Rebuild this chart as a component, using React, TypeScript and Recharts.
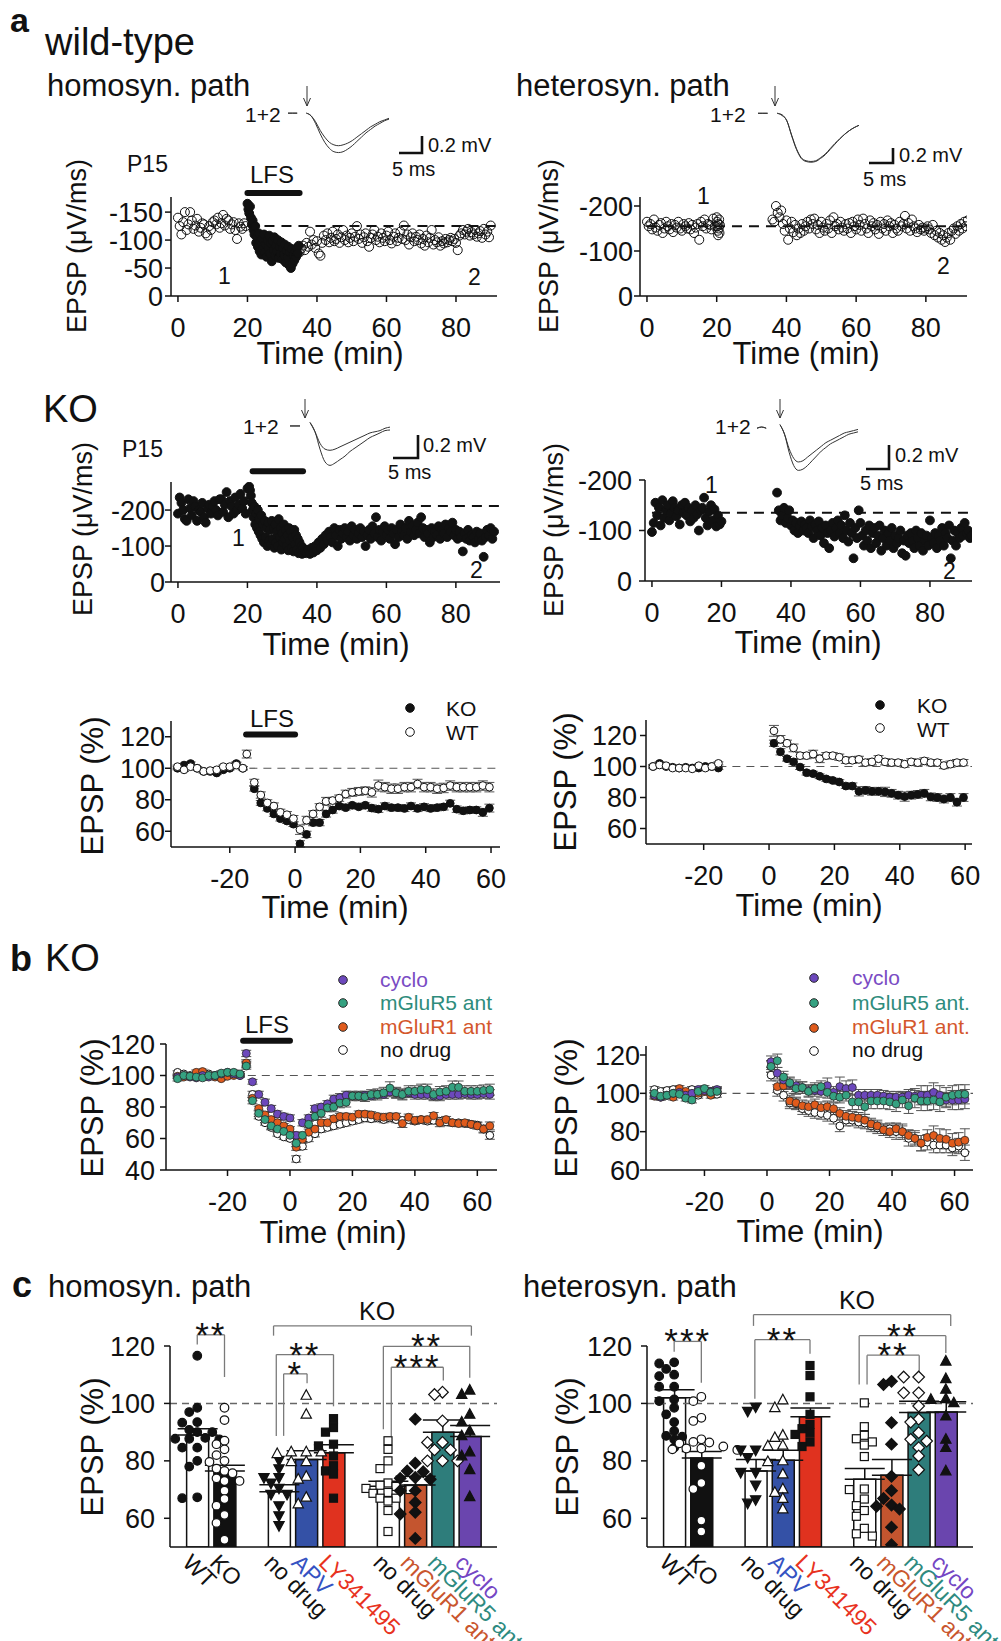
import React from 'react';
import {
  ComposedChart,
  LineChart,
  Line,
  Scatter,
  Bar,
  Cell,
  XAxis,
  YAxis,
  ReferenceLine,
  ReferenceDot,
  ErrorBar,
} from 'recharts';

const FONT = '"Liberation Sans", Arial, Helvetica, sans-serif';
const INK = '#111';

// ---------- a: single experiments, EPSP slope in µV/ms (sign dropped, axis labelled negative) ----------
// wild-type, homosynaptic path
const wtHomoPre = [140, 125, 110, 132, 150, 118, 128, 150, 135, 120, 126, 138, 115, 122, 130, 128, 112, 108, 125, 118, 132, 135, 128, 140, 122, 130, 145, 126, 138, 135, 120, 128, 132, 118, 102, 130, 124, 120, 130, 125]; // t 0..19.5, 0.5 min
const wtHomoLfs = [165, 155, 148, 160, 140, 128, 135, 118, 110, 125, 95, 105, 88, 112, 80, 98, 74, 102, 84, 110, 78, 92, 70, 100, 86, 108, 76, 94, 62, 98, 82, 105, 72, 90, 80, 100, 68, 88, 76, 96, 66, 85, 74, 92, 60, 80, 70, 88, 55, 78, 50, 84, 58, 72, 64, 80, 70, 86, 76, 90]; // t 20..34.75, 0.25 min
const wtHomoPost = [78, 85, 90, 82, 95, 88, 115, 92, 100, 86, 98, 76, 72, 95, 108, 100, 112, 96, 104, 115, 98, 102, 110, 95, 105, 118, 100, 108, 96, 104, 112, 98, 106, 125, 102, 110, 95, 105, 112, 98, 88, 104, 110, 118, 100, 106, 96, 112, 104, 98, 108, 115, 100, 94, 106, 112, 98, 104, 115, 102, 126, 100, 110, 92, 105, 112, 98, 106, 100, 110, 94, 102, 90, 108, 96, 104, 118, 92, 100, 96, 105, 90, 98, 94, 102, 96, 100, 104, 98, 102, 95, 82, 108, 112, 118, 110, 115, 120, 108, 114, 110, 118, 106, 112, 116, 104, 120, 110, 115, 105, 126]; // t 35..90, 0.5 min
// wild-type, heterosynaptic path
const wtHetPre = [165, 155, 160, 148, 170, 152, 145, 158, 162, 140, 150, 165, 155, 148, 160, 142, 158, 152, 165, 150, 145, 160, 155, 150, 162, 148, 158, 140, 152, 160, 125, 165, 155, 170, 150, 160, 158, 148, 172, 155]; // t 0..19.5
const wtHetBurst = [175, 165, 155, 145, 135, 160, 150, 170, 140, 158]; // t 20..20.9, 0.1 min
const wtHetPost = [170, 165, 200, 185, 175, 190, 160, 145, 168, 125, 150, 165, 142, 158, 135, 150, 140, 160, 145, 155, 165, 150, 170, 160, 172, 148, 158, 140, 165, 152, 145, 160, 150, 168, 140, 175, 155, 160, 148, 165, 152, 145, 160, 150, 162, 140, 165, 155, 148, 170, 158, 145, 172, 160, 150, 140, 168, 155, 162, 148, 158, 138, 165, 150, 160, 145, 168, 155, 162, 140, 158, 150, 145, 165, 155, 160, 178, 150, 162, 145, 170, 155, 150, 142, 158, 148, 152, 145, 150, 155, 148, 140, 158, 135, 145, 130, 140, 125, 135, 120, 130, 140, 125, 145, 150, 138, 155, 145, 160, 150, 165, 155, 168]; // t 36..92
// KO, homosynaptic path
const koHomoPre = [190, 235, 220, 200, 175, 170, 230, 205, 185, 225, 210, 170, 200, 195, 220, 180, 165, 205, 215, 190, 210, 225, 200, 185, 230, 230, 195, 215, 250, 180, 225, 210, 190, 235, 200, 215, 245, 205, 225, 190, 260]; // t 0..20
const koHomoLfs = [265, 255, 240, 220, 200, 180, 210, 160, 190, 150, 200, 140, 175, 130, 185, 120, 160, 110, 170, 125, 150, 100, 165, 115, 145, 105, 170, 120, 150, 95, 160, 110, 140, 100, 175, 125, 150, 90, 135, 110, 160, 120, 145, 100, 130, 88, 150, 115, 140, 95, 125, 85, 145, 105, 130, 90, 120, 80, 110, 85, 100, 78, 95]; // t 20.5..36, 0.25 min
const koHomoPost = [85, 80, 90, 78, 95, 82, 100, 88, 110, 95, 120, 105, 130, 115, 140, 125, 110, 150, 130, 100, 145, 120, 135, 150, 125, 140, 115, 155, 130, 145, 120, 135, 150, 125, 140, 100, 130, 145, 120, 155, 135, 180, 125, 145, 115, 140, 155, 130, 145, 120, 150, 135, 105, 145, 125, 160, 140, 130, 150, 120, 170, 140, 155, 130, 145, 165, 135, 180, 150, 125, 145, 135, 110, 150, 125, 140, 130, 155, 120, 145, 135, 160, 125, 150, 140, 165, 130, 145, 120, 140, 125, 85, 135, 120, 145, 115, 130, 125, 110, 140, 120, 135, 115, 70, 125, 145, 130, 150, 120, 140]; // t 36.5..91
// KO, heterosynaptic path
const koHetPre = [97, 115, 155, 130, 145, 110, 160, 125, 140, 150, 120, 135, 158, 145, 128, 140, 112, 150, 135, 155, 130, 145, 118, 140, 125, 150, 132, 100, 140, 145, 165, 125, 110, 138, 150, 120, 142, 108, 130, 112, 118]; // t 0..20
const koHetPost = [175, 140, 120, 130, 145, 115, 125, 140, 110, 120, 100, 115, 95, 108, 118, 100, 112, 105, 95, 120, 108, 85, 112, 100, 118, 90, 105, 75, 110, 95, 65, 100, 115, 88, 105, 120, 95, 110, 85, 130, 100, 78, 115, 95, 45, 105, 85, 140, 115, 90, 70, 100, 80, 110, 65, 95, 105, 75, 90, 110, 60, 85, 100, 70, 95, 80, 105, 65, 90, 75, 85, 100, 55, 80, 50, 90, 75, 95, 80, 65, 100, 85, 70, 95, 60, 80, 90, 70, 120, 85, 75, 95, 65, 90, 80, 105, 70, 95, 85, 110, 45, 80, 100, 70, 95, 85, 105, 90, 115, 95, 100, 85, 90]; // t 36..92

// example EPSP traces (mV, 1 ms steps; null = removed stimulus artefact)
const trWtHomo1 = [0, 0, 0, null, 0, -0.03, -0.1, -0.2, -0.28, -0.34, -0.37, -0.38, -0.37, -0.35, -0.32, -0.28, -0.24, -0.2, -0.16, -0.13, -0.1, -0.08, -0.06];
const trWtHomo2 = [0, 0, 0, null, 0, -0.03, -0.12, -0.24, -0.34, -0.41, -0.45, -0.46, -0.45, -0.42, -0.38, -0.33, -0.28, -0.23, -0.19, -0.15, -0.12, -0.09, -0.07];
const trWtHet1 = [0, 0, 0, null, 0, -0.03, -0.1, -0.3, -0.48, -0.6, -0.64, -0.65, -0.64, -0.6, -0.55, -0.48, -0.41, -0.34, -0.28, -0.23, -0.19, -0.16];
const trWtHet2 = [0, 0, 0, null, 0, -0.02, -0.1, -0.29, -0.47, -0.59, -0.63, -0.64, -0.63, -0.59, -0.54, -0.47, -0.4, -0.34, -0.28, -0.23, -0.19, -0.16];
const trKoHomo1 = [0, 0, 0, null, 0.03, -0.05, -0.2, -0.31, -0.34, -0.32, -0.29, -0.26, -0.22, -0.19, -0.16, -0.13, -0.1, -0.08, -0.06, -0.04, -0.035];
const trKoHomo2 = [0, 0, 0, null, 0.03, -0.05, -0.15, -0.2, -0.21, -0.2, -0.18, -0.16, -0.14, -0.12, -0.1, -0.08, -0.06, -0.05, -0.04, -0.02, -0.01];
const trKoHet1 = [0, 0.01, 0, null, null, 0.03, -0.05, -0.2, -0.31, -0.35, -0.34, -0.31, -0.27, -0.23, -0.19, -0.16, -0.13, -0.11, -0.09, -0.07, -0.05, -0.04, -0.03];
const trKoHet2 = [0, 0.01, 0, null, null, 0.03, -0.05, -0.17, -0.25, -0.28, -0.27, -0.24, -0.21, -0.18, -0.15, -0.12, -0.1, -0.08, -0.06, -0.04, -0.03, -0.02, -0.01];

// ---------- a, bottom row: averages, EPSP (%) ----------
const avgHomoWtPre = [101, 99, 101, 100, 98, 98.5, 99, 101, 101, 102, 100]; // t -36..-16, 2 min
const avgHomoWtPreErr = [1, 1, 1, 1, 1, 1, 1, 1, 1, 1.5, 1];
const avgHomoKoPre = [100, 102, 103, 100, 98, 98, 97, 99, 100, 103, 100];
const avgHomoKoPreErr = [1, 1, 1, 1, 1, 1, 1, 1, 1, 1, 1];
const avgHomoWtTest = [{ t: -14.8, v: 109, e: 2.5 }];
const avgHomoWtPost = [91, 83, 78, 76, 72, 70.5, 68, 61, 67, 71, 75.5, 79, 79.5, 81, 83.6, 84.7, 85.3, 85.7, 84.7, 89, 88, 87, 87, 88, 88, 90, 88, 88, 87, 87.5, 89, 88, 88, 88, 88, 89, 88]; // t -12.5..59.5
const avgHomoWtPostErr = [2, 2, 2, 2, 2, 2, 2, 3, 2.5, 2, 2, 2.5, 2, 2, 2.5, 2.5, 2.5, 2.5, 3, 3.5, 3, 3, 3, 3, 3, 3, 3, 3, 3, 3, 3, 3, 3, 3, 3, 3, 3];
const avgHomoKoPost = [87, 78, 74.5, 71, 68, 66.5, 64.5, 52, 58, 65.5, 65.5, 71, 73.5, 76, 75, 76.5, 75.5, 76.5, 74.7, 74, 76, 75, 75, 74.5, 76, 74.5, 75.5, 74.5, 75, 75.5, 77.7, 74, 73, 73.5, 73.5, 72, 74.7];
const avgHomoKoPostErr = [1.5, 1.5, 1.5, 1.5, 1.5, 1.5, 1.5, 2, 2, 2, 2, 2, 2, 1.5, 1.5, 1.5, 1.5, 1.5, 2, 2, 2, 2, 2, 2, 2, 2, 2, 2, 2, 2, 2, 2, 2, 2, 2, 2.5, 2.5];

const avgHetWtPre = [100, 101, 100.5, 99, 99, 99, 98.5, 100.5, 99, 100, 102]; // t -35.5..-15.5
const avgHetWtPreErr = [1, 1, 1, 1, 1, 1, 1, 1, 1, 1, 1];
const avgHetKoPre = [100, 102, 100, 99.5, 99, 99.5, 99, 99, 100, 100, 99];
const avgHetKoPreErr = [1, 1, 1, 1, 1, 1, 1, 1, 1, 1, 1];
const avgHetWtPost = [123, 117.5, 115, 112, 107, 107, 108, 105, 107, 107, 106, 104, 104, 104.6, 102.5, 103, 105, 103, 102.5, 102.5, 101.5, 103, 102.5, 103.6, 102.5, 102.5, 100.6, 101.5, 102.5, 102.5]; // t 1.5..59.5
const avgHetWtPostErr = [3.5, 2.5, 2, 2.5, 2, 2, 2.5, 2.5, 2, 2, 2, 2, 2, 2, 2, 2, 2, 2, 2, 2, 2, 2, 2, 2, 2, 2, 2, 2, 2, 2];
const avgHetKoPost = [115, 109.5, 105, 103, 99.6, 96, 95.4, 93.7, 92, 91, 90, 87.4, 87.4, 84, 84.6, 84, 84, 83.6, 82.7, 81.5, 80.6, 81.5, 82, 82.7, 80.4, 80, 79, 80, 77, 80];
const avgHetKoPostErr = [2, 2, 1.5, 1.5, 1.5, 1.5, 1.5, 1.5, 1.5, 1.5, 1.5, 1.5, 2, 3, 2.5, 2.5, 2.5, 3, 2.5, 2.5, 3, 2.5, 2.5, 2.5, 2.5, 2.5, 2.5, 2.5, 2.5, 2.5];

// ---------- b: KO with drugs, EPSP (%) ----------
// homosyn., t -36..64 every 2 min
const bHomoCyclo = [99, 100, 99, 98.5, 100, 99, 100, 101, 102, 101, 100, 114, 96, 88, 83, 79, 75.5, 74, 73, 62, 70, 73, 79, 80, 82, 85, 86, 87.5, 87, 87, 87.5, 87, 88, 88, 89.5, 89, 88, 89, 88, 88, 88, 87, 87, 88, 88, 88, 88.5, 88, 88, 88.5, 88];
const bHomoCycloErr = [1, 1, 1, 1, 1, 1, 1, 1, 1, 1, 1, 2, 1.5, 2, 2, 2, 2, 2, 2, 2, 2, 2, 2, 2, 2, 2.5, 2.5, 2.5, 2.5, 2.5, 2.5, 2.5, 2.5, 2.5, 3, 3, 3, 3, 3, 3, 3, 3, 3, 3, 3, 3, 3, 3, 3, 3, 3];
const bHomoR5 = [98, 100, 99.5, 99, 98.5, 100, 100, 101.5, 102, 102, 101, 106, 84, 76, 72, 68, 66, 64.5, 62, 57, 62, 69, 74, 76, 79.5, 80, 82.5, 83, 87, 87, 86.5, 88, 88, 89, 92, 89, 88, 90, 90, 91, 91, 88, 89.5, 90, 92.5, 92.5, 90, 90, 90, 90.5, 91];
const bHomoR5Err = [1.5, 1.5, 1.5, 1.5, 1.5, 1.5, 1.5, 1.5, 1.5, 1.5, 1.5, 2, 2, 2, 2, 2, 2, 2, 2, 2, 2, 2, 2.5, 2.5, 2.5, 3, 3, 3, 3, 3, 3, 3, 3.5, 3.5, 4, 3.5, 3.5, 3.5, 3.5, 3.5, 3.5, 3.5, 3.5, 3.5, 4, 4, 3.5, 3.5, 3.5, 3.5, 3.5];
const bHomoR1 = [99.5, 99, 99.5, 102, 102.5, 100, 99, 98, 99.5, 100, 100.5, 108, 85.5, 79, 75, 72, 70, 68, 66, 54.5, 59.5, 64, 66, 70, 70, 72.5, 74, 74, 73.5, 75.5, 75.5, 75, 74, 73.5, 74, 74, 69.5, 73.5, 71.5, 72, 72, 74.5, 70, 72, 70, 69.5, 70, 69, 68, 66, 68];
const bHomoR1Err = [1, 1, 1, 1.5, 1.5, 1, 1, 1, 1, 1, 1, 2, 1.5, 1.5, 1.5, 1.5, 1.5, 1.5, 1.5, 2, 2, 2, 2, 2, 2, 2, 2, 2, 2, 2, 2, 2, 2, 2, 2, 2, 2.5, 2, 2, 2, 2, 2, 2.5, 2, 2, 2, 2, 2, 2, 2, 2.5];
const bHomoNone = [102, 101, 100, 99, 100, 101, 100, 100, 101, 100.5, 100, 107, 88, 74, 70, 67, 63, 61, 60, 47, 55, 60, 63, 66, 67, 68, 69, 70, 71, 72, 73, 72.5, 73, 72, 73, 72, 71.5, 72, 71, 72, 71, 71.5, 71, 70.5, 70, 70, 69.5, 69, 68.5, 66, 62];
const bHomoNoneErr = [1, 1, 1, 1, 1, 1, 1, 1, 1, 1, 1, 2, 2, 1.5, 1.5, 1.5, 1.5, 1.5, 1.5, 2, 2, 2, 2, 2, 2, 2, 2, 2, 2, 2, 2, 2, 2, 2, 2, 2, 2, 2, 2, 2, 2, 2, 2, 2, 2, 2, 2, 2, 2, 2.5, 2.5];
// heterosyn., pre t -36..-16, post t 1.3..63.3 every 2 min
const bHetCycloPre = [99, 98, 99, 100, 100.5, 99, 100, 102, 101.5, 101, 102];
const bHetR5Pre = [100, 98.5, 99, 100, 99.5, 97.5, 96.5, 101, 102.5, 100.5, 101];
const bHetR1Pre = [98.5, 98, 99, 98, 102.5, 101, 99, 100, 101, 99, 101.5];
const bHetNonePre = [102, 101, 101.5, 102, 100.5, 100, 102, 99, 101, 101, 99.5];
const bHetPreErr = [1.5, 1.5, 1.5, 1.5, 1.5, 1.5, 1.5, 1.5, 1.5, 1.5, 1.5];
const bHetCycloPost = [116.5, 110.5, 107, 105, 104, 103, 101.5, 101.5, 101, 104, 100.5, 103.5, 102.5, 103, 99, 99, 99, 99, 98.5, 98, 98, 98, 99, 98.5, 99, 99, 100.5, 99, 96.5, 96.5, 96.5, 97];
const bHetCycloErr = [3, 3, 3, 3, 3, 3, 3, 3, 3, 4, 3, 5, 4, 4, 3, 3, 3, 3, 3, 3, 3, 3, 3, 3, 5, 5, 5, 5, 4, 5, 5, 5];
const bHetR5Post = [114, 117, 108.5, 105.5, 102.5, 103, 101, 102.5, 103.5, 100.5, 98.5, 98, 99, 95.5, 95.5, 93, 96, 96, 96, 95.5, 94.5, 96.5, 93.5, 97.5, 96, 96, 96.5, 95.5, 98, 99, 99.5, 99.5];
const bHetR5Err = [3, 3.5, 3, 3, 3, 3, 3, 3, 3, 3, 3, 3, 3, 4, 4, 4, 4, 4, 4, 4, 4, 4, 4, 5, 5, 5, 5, 5, 5, 5, 5, 5];
const bHetR1Post = [114, 103.5, 104, 96, 95, 93.5, 93, 94, 92.5, 93, 92, 89.5, 88, 87.5, 87, 86, 84, 83, 81, 80, 81.5, 80, 78, 76.5, 74, 77, 78, 76.5, 76, 74, 74.5, 75.5];
const bHetR1Err = [3, 3, 3, 3, 3, 3, 3, 3, 3, 3, 3, 3, 3, 3, 3, 3, 3, 3, 3, 3, 3, 3, 3, 3, 4, 4, 5, 5, 5, 5, 5, 6];
const bHetNonePost = [109.5, 101.5, 99, 95, 94.5, 92, 91, 90, 89.5, 88.5, 87, 83, 86, 86, 85, 84.5, 83, 82, 81, 81.5, 80, 80, 76.5, 76.5, 74, 74.5, 73, 73, 73, 71.5, 72.5, 69];
const bHetNoneErr = [3, 3, 3, 3, 3, 3, 3, 3, 3, 3, 3, 3, 3, 3, 3, 3, 3, 3, 3, 3, 4, 4, 4, 4, 4, 4, 4, 4, 4, 4, 4, 4];

// ---------- c: summary bars ----------
const barPos = [0, 1, 3, 4, 5, 7, 8, 9, 10];
const catLabels = ['WT', 'KO', 'no drug', 'APV', 'LY341495', 'no drug', 'mGluR1 ant', 'mGluR5 ant', 'cyclo'];
const catColors = [INK, INK, INK, '#3552c2', '#e8321e', INK, '#c9562e', '#2e8a80', '#7446c4'];
const barFills = ['#fff', INK, '#fff', '#3451a6', '#e0321f', '#fff', '#c4552f', '#2e7d7b', '#6a45ae'];
const homoMeans = [89, 76.5, 69.2, 80.5, 82.8, 71.2, 71.6, 90, 88.5];
const homoSems = [2.2, 2, 2.5, 3, 2.8, 1.7, 3, 4.2, 3.8];
const hetMeans = [102, 81, 76.5, 80.2, 95.4, 73.6, 75, 96.8, 97];
const hetSems = [2.8, 2.3, 4, 3.5, 3, 3.7, 5.5, 4, 3.6];
const homoPoints = [
  [116.6, 98.5, 97, 93.3, 93.5, 90, 90, 90.8, 88, 87.7, 87.5, 87.7, 84.6, 84.6, 80, 78, 67, 67.3],
  [98.5, 94.2, 87, 85.8, 84, 82, 80, 79.6, 77.3, 76.5, 75.7, 73.9, 73, 73, 69.6, 66.7, 64.4, 61.2, 58.4, 52.5],
  [80.2, 77.3, 74.2, 74.2, 72.3, 70.5, 68.4, 68.4, 64.4, 60.9, 57.5],
  [102.8, 96.2, 83.1, 83.1, 83.1, 82.5, 79.7, 79.7, 74.6, 73.6, 67.3, 65],
  [94.7, 91.6, 90, 85.2, 85.8, 81.7, 78.3, 76.5, 75.4, 67],
  [87, 84, 80, 77.3, 72.3, 71.1, 71.5, 70.4, 70, 69, 68.7, 67, 67, 66, 62.7, 55.4],
  [94.5, 79.2, 76.5, 76.2, 73.9, 73.6, 74.2, 69.6, 69.6, 65.5, 62.1, 61.5, 53],
  [103.9, 103.1, 93.9, 86.4, 86.4, 83.8, 83.8, 80, 80, 80],
  [103.1, 104.6, 96.2, 93.5, 90.4, 88.7, 81.7, 83.1, 76.9, 67.5],
];
const hetPoints = [
  [113.9, 114.3, 112, 109.5, 110, 105.8, 105.8, 101.4, 100.8, 98.5, 96.2, 93.5, 90.4, 88.7, 88.4, 87.5, 84.6],
  [102.3, 100.8, 95, 93.9, 84, 86.1, 86.4, 86.6, 87.5, 83.8, 85, 84.3, 84.3, 78.3, 72.3, 70.2, 59.2, 55.4],
  [97.3, 98.8, 83.8, 83.8, 81.2, 76, 76, 71.6, 66.5, 65.3],
  [101.2, 98.5, 88.9, 88.1, 85.2, 85.4, 79.7, 80, 75.4, 69, 70.2, 66.9, 63.2],
  [113.2, 109.7, 102.3, 96.2, 92.7, 91.2, 89.8, 89.2, 86.6, 85],
  [100.2, 91.9, 87.7, 88.9, 86.6, 85.5, 81.5, 70, 70.2, 66.7, 64.4, 62.7, 60.7, 56.5, 54.6, 53.8],
  [107.7, 106.6, 93.3, 85.8, 74.6, 69.6, 66.9, 64.6, 64.2, 63.2, 56.9, 50.8],
  [109.2, 109.2, 103.7, 103.7, 99.1, 94.5, 93.5, 89.8, 87.5, 86.9, 84.6, 81.7, 76.9],
  [114.7, 108.6, 104.9, 101.4, 101.6, 100.2, 95.6, 87.5, 84.6, 76.5],
];
// significance brackets (x in bar positions, y in %)
const homoBrackets = [
  { x1: 0, x2: 1, y: 123.9, y1: 120.5, y2: 109.2, label: '**' },
  { x1: 2.8, x2: 10.06, y: 127, y1: 123.6, y2: 123.6, label: '' },
  { x1: 2.9, x2: 5, y: 117, y1: 88.7, y2: 99, label: '**' },
  { x1: 3.17, x2: 4.03, y: 110.3, y1: 88.7, y2: 107, label: '*' },
  { x1: 6.83, x2: 10, y: 119.9, y1: 91, y2: 108.9, label: '**' },
  { x1: 7.12, x2: 9.03, y: 112.6, y1: 88.7, y2: 108, label: '***' },
];
const hetBrackets = [
  { x1: 0, x2: 1, y: 121.6, y1: 118, y2: 107.2, label: '***' },
  { x1: 2.92, x2: 10.18, y: 130.9, y1: 127, y2: 127, label: '' },
  { x1: 2.97, x2: 5, y: 122.2, y1: 101.6, y2: 117.3, label: '**' },
  { x1: 6.81, x2: 10, y: 123.6, y1: 106.6, y2: 117.6, label: '**' },
  { x1: 7.1, x2: 9.02, y: 116.8, y1: 106.6, y2: 110.6, label: '**' },
];

// colours of panel b
const C_CYCLO = '#6c48bc';
const C_R5 = '#35a281';
const C_R1 = '#e05b1c';

// ---------- helpers ----------
const seq = (vals: (number | null)[], t0: number, dt: number) =>
  vals.map((v, i) => ({ t: Math.round((t0 + i * dt) * 100) / 100, v }));
const seqE = (vals: number[], errs: number[], t0: number, dt: number) =>
  vals.map((v, i) => ({ t: Math.round((t0 + i * dt) * 100) / 100, v, e: errs[i] }));

// spread points of one bar sideways so they do not overlap
const PX_X = 27.2;
const PX_Y = 2.88;
function swarm(vals: number[], center: number) {
  const placed: { dx: number; y: number }[] = [];
  const out: { pos: number; v: number }[] = [];
  const order = vals.map((_, i) => i).sort((a, b) => vals[b] - vals[a]);
  const cands = [0, -8, 8, -15, 15, -22, 22, -29, 29, -36, 36];
  for (const i of order) {
    const y = vals[i] * PX_Y;
    let dx = cands[cands.length - 1];
    for (const c of cands) {
      if (placed.every((p) => Math.hypot(p.dx - c, p.y - y) >= 8.2)) {
        dx = c;
        break;
      }
    }
    placed.push({ dx, y });
    out.push({ pos: center + dx / PX_X, v: vals[i] });
  }
  return out;
}

const YW = 90;
const axisLn = { stroke: INK, strokeWidth: 1.5 };
const tickFont = { fontSize: 27, fill: INK, fontFamily: FONT };
const neg = (v: number) => (v === 0 ? '0' : `-${v}`);

function Frame({ r, mt = 60, xh = 56, mr = 16, data, children }: any) {
  const width = r[2] - r[0] + YW + mr;
  const height = r[3] - r[1] + mt + xh;
  return (
    <div style={{ position: 'absolute', left: r[0] - YW, top: r[1] - mt }}>
      <ComposedChart width={width} height={height} data={data} margin={{ top: mt, right: mr, bottom: 0, left: 0 }}>
        {children}
      </ComposedChart>
    </div>
  );
}

const timeAxis = (domain: number[], ticks: number[]) => (
  <XAxis
    type="number"
    dataKey="t"
    domain={domain}
    ticks={ticks}
    allowDataOverflow
    interval={0}
    height={56}
    tickSize={6}
    tickMargin={16}
    tick={tickFont}
    axisLine={axisLn}
    tickLine={axisLn}
  />
);
const valAxis = (domain: number[], ticks: number[], margin: number, fmt?: (v: number) => string) => (
  <YAxis
    type="number"
    domain={domain}
    ticks={ticks}
    allowDataOverflow
    interval={0}
    width={YW}
    tickSize={6}
    tickMargin={margin}
    tick={tickFont}
    axisLine={axisLn}
    tickLine={axisLn}
    tickFormatter={fmt}
  />
);

// marker shapes
const ring = (p: any) => (p.cx == null ? <g /> : <circle cx={p.cx} cy={p.cy} r={4.5} fill="none" stroke={INK} strokeWidth={1} />);
const blob = (p: any) => (p.cx == null ? <g /> : <circle cx={p.cx} cy={p.cy} r={4.4} fill={INK} stroke={INK} strokeWidth={1} />);
const avgOpen = (p: any) => (p.cx == null ? <g /> : <circle cx={p.cx} cy={p.cy} r={3.9} fill="#fff" stroke={INK} strokeWidth={1} />);
const avgFull = (p: any) => (p.cx == null ? <g /> : <circle cx={p.cx} cy={p.cy} r={3.9} fill={INK} stroke={INK} strokeWidth={1} />);
const colDot = (c: string) => (p: any) =>
  p.cx == null ? <g /> : <circle cx={p.cx} cy={p.cy} r={4} fill={c} stroke="#2a2a2a" strokeWidth={0.8} />;

type Kind = 'circle' | 'square' | 'diamond' | 'triUp' | 'triDown';
const kinds: Kind[] = ['circle', 'circle', 'triDown', 'triUp', 'square', 'square', 'diamond', 'diamond', 'triUp'];
const filled = [true, false, true, false, true, false, true, false, true];
function marker(kind: Kind, full: boolean) {
  const r = 4.3;
  return (p: any) => {
    if (p.cx == null) return <g />;
    const { cx, cy } = p;
    const st = { fill: full ? INK : '#fff', stroke: INK, strokeWidth: 1.2 };
    if (kind === 'circle') return <circle cx={cx} cy={cy} r={r} {...st} />;
    if (kind === 'square') return <rect x={cx - r + 0.3} y={cy - r + 0.3} width={2 * r - 0.6} height={2 * r - 0.6} {...st} />;
    if (kind === 'diamond') {
      const d = r * 1.35;
      return <polygon points={`${cx},${cy - d} ${cx + d},${cy} ${cx},${cy + d} ${cx - d},${cy}`} {...st} />;
    }
    const d = r * 1.2;
    if (kind === 'triUp') return <polygon points={`${cx},${cy - d * 1.1} ${cx + d},${cy + d * 0.75} ${cx - d},${cy + d * 0.75}`} {...st} />;
    return <polygon points={`${cx},${cy + d * 1.1} ${cx + d},${cy - d * 0.75} ${cx - d},${cy - d * 0.75}`} {...st} />;
  };
}

const textLabel = (text: string, size: number, dy: number, spacing = 0) => (p: any) => {
  const vb = p.viewBox || {};
  const cx = (vb.x ?? 0) + (vb.width ?? 0) / 2;
  const cy = (vb.y ?? 0) + (vb.height ?? 0) / 2;
  return (
    <text x={cx} y={cy + dy} textAnchor="middle" fontSize={size} fontFamily={FONT} fill={INK} letterSpacing={spacing}>
      {text}
    </text>
  );
};

function bracketEls(list: typeof homoBrackets, tag: string) {
  const st = { stroke: '#7a7a7a', strokeWidth: 1.3 };
  const out: React.ReactNode[] = [];
  list.forEach((b, i) => {
    out.push(<ReferenceLine key={`${tag}h${i}`} segment={[{ x: b.x1, y: b.y }, { x: b.x2, y: b.y }]} ifOverflow="visible" {...st} />);
    out.push(<ReferenceLine key={`${tag}l${i}`} segment={[{ x: b.x1, y: b.y1 }, { x: b.x1, y: b.y }]} ifOverflow="visible" {...st} />);
    out.push(<ReferenceLine key={`${tag}r${i}`} segment={[{ x: b.x2, y: b.y2 }, { x: b.x2, y: b.y }]} ifOverflow="visible" {...st} />);
    if (b.label) {
      out.push(
        <ReferenceDot key={`${tag}s${i}`} x={(b.x1 + b.x2) / 2} y={b.y} r={0} fill="none" stroke="none" ifOverflow="visible" label={textLabel(b.label, 35, 12, 2)} />,
      );
    }
  });
  return out;
}

const catTick = (p: any) => {
  const i = barPos.indexOf(p.payload.value);
  const x = p.x - 4;
  const y = p.y + 1;
  return (
    <text x={x} y={y} transform={`rotate(45 ${x} ${y})`} fontSize={23} fontFamily={FONT} fill={catColors[i]} dominantBaseline="hanging">
      {catLabels[i]}
    </text>
  );
};

function Txt({ x, y, size = 24, bold = false, color = INK, center = false, children }: any) {
  return (
    <div
      style={{
        position: 'absolute',
        left: x,
        top: y - 0.846 * size,
        fontSize: size,
        lineHeight: 1,
        fontWeight: bold ? 700 : 400,
        color,
        whiteSpace: 'nowrap',
        transform: center ? 'translateX(-50%)' : undefined,
      }}
    >
      {children}
    </div>
  );
}
function VTxt({ x, y, size = 27, children }: any) {
  return (
    <div
      style={{
        position: 'absolute',
        left: x,
        top: y,
        fontSize: size,
        lineHeight: 1,
        whiteSpace: 'nowrap',
        transform: 'translate(-50%, -50%) rotate(-90deg)',
      }}
    >
      {children}
    </div>
  );
}
function LegDot({ x, y, fill, stroke = INK }: any) {
  return (
    <svg style={{ position: 'absolute', left: x - 7, top: y - 7 }} width={14} height={14}>
      <circle cx={7} cy={7} r={4.3} fill={fill} stroke={stroke} strokeWidth={1} />
    </svg>
  );
}
function ScaleBar({ x0, x1, y0, y1 }: any) {
  return (
    <svg style={{ position: 'absolute', left: x0 - 2, top: y0 - 2 }} width={x1 - x0 + 4} height={y1 - y0 + 4}>
      <path d={`M2 ${y1 - y0 + 2} H${x1 - x0 + 2} V2`} stroke={INK} strokeWidth={2.6} fill="none" />
    </svg>
  );
}
function Arrow({ x, y0, y1 }: any) {
  const h = y1 - y0;
  return (
    <svg style={{ position: 'absolute', left: x - 5, top: y0 }} width={10} height={h + 2}>
      <path d={`M5 0 V${h} M1.5 ${h - 8} L5 ${h} L8.5 ${h - 8}`} stroke="#333" strokeWidth={1} fill="none" />
    </svg>
  );
}
function Trace({ left, top, width, height, lo, hi, a, b }: any) {
  const data = a.map((v: number | null, i: number) => ({ i, a: v, b: b[i] }));
  return (
    <div style={{ position: 'absolute', left, top }}>
      <LineChart width={width} height={height} data={data} margin={{ top: 0, right: 0, bottom: 0, left: 0 }}>
        <XAxis dataKey="i" type="number" domain={[0, a.length - 1]} hide />
        <YAxis domain={[lo, hi]} hide allowDataOverflow />
        <Line dataKey="a" type="monotone" stroke="#333" strokeWidth={1} dot={false} isAnimationActive={false} />
        <Line dataKey="b" type="monotone" stroke="#333" strokeWidth={1} dot={false} isAnimationActive={false} />
      </LineChart>
    </div>
  );
}

const errBar = <ErrorBar dataKey="e" direction="y" width={5} stroke="#555" strokeWidth={1} />;

function BarPanel({ r, means, sems, points, brackets, koX, koY, tag }: any) {
  // one band per integer position 0..10; empty bands are the gaps between groups
  const slots = [0, 1, 2, 3, 4, 5, 6, 7, 8, 9, 10];
  const rows = slots.map((slot) => {
    const i = barPos.indexOf(slot);
    return { slot, mean: i >= 0 ? means[i] : null, err: i >= 0 ? [0, sems[i]] : null, fill: i >= 0 ? barFills[i] : 'none' };
  });
  const pad = (r[2] - r[0]) / 24;
  return (
    <Frame r={r} data={rows} mt={70} xh={130} mr={70}>
      <XAxis xAxisId="cat" type="category" dataKey="slot" hide padding={{ left: pad, right: pad }} />
      <XAxis type="number" dataKey="pos" domain={[-1, 11]} ticks={barPos} interval={0} allowDataOverflow height={130} tickSize={0} tickMargin={4} tickLine={false} axisLine={axisLn} tick={catTick} />
      {valAxis([50, 120], [60, 80, 100, 120], 9)}
      <ReferenceLine y={100} stroke="#666" strokeWidth={1.5} strokeDasharray="7 5" />
      <Bar xAxisId="cat" dataKey="mean" barSize={22} stroke={INK} strokeWidth={1.5} isAnimationActive={false}>
        {rows.map((row, i) => (
          <Cell key={i} fill={row.fill} />
        ))}
        <ErrorBar dataKey="err" width={20} stroke={INK} strokeWidth={1.5} />
      </Bar>
      {points.map((vals: number[], i: number) => (
        <Scatter key={i} data={swarm(vals, barPos[i])} dataKey="v" shape={marker(kinds[i], filled[i])} isAnimationActive={false} />
      ))}
      {bracketEls(brackets, tag)}
      <ReferenceDot x={koX} y={koY} r={0} fill="none" stroke="none" ifOverflow="visible" label={textLabel('KO', 25, 0)} />
    </Frame>
  );
}

export default function App() {
  const lfs = { stroke: INK, strokeWidth: 6, strokeLinecap: 'round' as const, ifOverflow: 'visible' as const };
  const base = { stroke: INK, strokeWidth: 2, strokeDasharray: '10 7', ifOverflow: 'visible' as const };
  const hundred = { stroke: '#555', strokeWidth: 1.2, strokeDasharray: '8 6', ifOverflow: 'visible' as const };
  return (
    <div style={{ position: 'relative', width: 1001, height: 1641, background: '#fff', fontFamily: FONT, color: INK, overflow: 'hidden' }}>
      <style>{'body{margin:0}'}</style>

      {/* ---------------- a ---------------- */}
      <Txt x={10} y={32} size={34} bold>a</Txt>
      <Txt x={45} y={55} size={38}>wild-type</Txt>
      <Txt x={47} y={96} size={31}>homosyn. path</Txt>
      <Txt x={516} y={96} size={31}>heterosyn. path</Txt>

      {/* WT homosyn */}
      <Txt x={127} y={172} size={23}>P15</Txt>
      <Txt x={250} y={183} size={24}>LFS</Txt>
      <Txt x={245} y={122} size={21}>1+2</Txt>
      <Arrow x={307} y0={86} y1={106} />
      <Trace left={288} top={108} width={101} height={48} lo={-0.5} hi={0.06} a={trWtHomo1} b={trWtHomo2} />
      <ScaleBar x0={399} x1={422} y0={136} y1={153} />
      <Txt x={428} y={152} size={20}>0.2 mV</Txt>
      <Txt x={392} y={176} size={20}>5 ms</Txt>
      <Frame r={[171, 197, 497, 296]}>
        {timeAxis([-2, 91.8], [0, 20, 40, 60, 80])}
        {valAxis([0, 177], [0, 50, 100, 150], 2, neg)}
        <ReferenceLine segment={[{ x: 20, y: 125 }, { x: 91.8, y: 125 }]} {...base} />
        <Scatter data={seq(wtHomoPre, 0, 0.5)} dataKey="v" shape={ring} isAnimationActive={false} />
        <Scatter data={seq(wtHomoLfs, 20, 0.25)} dataKey="v" shape={blob} isAnimationActive={false} />
        <Scatter data={seq(wtHomoPost, 35, 0.5)} dataKey="v" shape={ring} isAnimationActive={false} />
        <ReferenceLine segment={[{ x: 20, y: 184 }, { x: 35, y: 184 }]} {...lfs} />
      </Frame>
      <Txt x={218} y={284} size={23}>1</Txt>
      <Txt x={468} y={285} size={23}>2</Txt>
      <VTxt x={77} y={246}>EPSP (μV/ms)</VTxt>
      <Txt x={330} y={364} size={31} center>Time (min)</Txt>

      {/* WT heterosyn */}
      <Txt x={710} y={122} size={21}>1+2</Txt>
      <Arrow x={775} y0={86} y1={106} />
      <Trace left={758} top={108} width={101} height={58} lo={-0.7} hi={0.07} a={trWtHet1} b={trWtHet2} />
      <ScaleBar x0={869} x1={893} y0={148} y1={163} />
      <Txt x={899} y={162} size={20}>0.2 mV</Txt>
      <Txt x={863} y={186} size={20}>5 ms</Txt>
      <Frame r={[640, 197, 967, 296]}>
        {timeAxis([-2, 91.8], [0, 20, 40, 60, 80])}
        {valAxis([0, 220], [0, 100, 200], 1, neg)}
        <ReferenceLine segment={[{ x: 0, y: 155 }, { x: 91.8, y: 155 }]} {...base} />
        <Scatter data={seq(wtHetPre, 0, 0.5)} dataKey="v" shape={ring} isAnimationActive={false} />
        <Scatter data={seq(wtHetBurst, 20, 0.1)} dataKey="v" shape={ring} isAnimationActive={false} />
        <Scatter data={seq(wtHetPost, 36, 0.5)} dataKey="v" shape={ring} isAnimationActive={false} />
      </Frame>
      <Txt x={697} y={204} size={23}>1</Txt>
      <Txt x={937} y={274} size={23}>2</Txt>
      <VTxt x={549} y={246}>EPSP (μV/ms)</VTxt>
      <Txt x={806} y={364} size={31} center>Time (min)</Txt>

      {/* KO homosyn */}
      <Txt x={43} y={422} size={38}>KO</Txt>
      <Txt x={122} y={457} size={23}>P15</Txt>
      <Txt x={243} y={434} size={21}>1+2</Txt>
      <Arrow x={305} y0={399} y1={418} />
      <Trace left={290} top={419} width={100} height={51} lo={-0.38} hi={0.06} a={trKoHomo1} b={trKoHomo2} />
      <ScaleBar x0={393} x1={418} y0={435} y1={458} />
      <Txt x={423} y={452} size={20}>0.2 mV</Txt>
      <Txt x={388} y={479} size={20}>5 ms</Txt>
      <Frame r={[171, 482, 500, 582]}>
        {timeAxis([-2, 92.7], [0, 20, 40, 60, 80])}
        {valAxis([0, 278], [0, 100, 200], 0, neg)}
        <ReferenceLine segment={[{ x: 21, y: 211 }, { x: 92.7, y: 211 }]} {...base} />
        <Scatter data={seq(koHomoPre, 0, 0.5)} dataKey="v" shape={blob} isAnimationActive={false} />
        <Scatter data={seq(koHomoLfs, 20.5, 0.25)} dataKey="v" shape={blob} isAnimationActive={false} />
        <Scatter data={seq(koHomoPost, 36.5, 0.5)} dataKey="v" shape={blob} isAnimationActive={false} />
        <ReferenceLine segment={[{ x: 21.5, y: 308 }, { x: 36, y: 308 }]} {...lfs} />
      </Frame>
      <Txt x={232} y={546} size={23}>1</Txt>
      <Txt x={470} y={578} size={23}>2</Txt>
      <VTxt x={83} y={529}>EPSP (μV/ms)</VTxt>
      <Txt x={336} y={655} size={31} center>Time (min)</Txt>

      {/* KO heterosyn */}
      <Txt x={715} y={434} size={21}>1+2</Txt>
      <Arrow x={780} y0={399} y1={418} />
      <Trace left={757} top={421} width={101} height={53} lo={-0.38} hi={0.06} a={trKoHet1} b={trKoHet2} />
      <ScaleBar x0={866} x1={889} y0={445} y1={469} />
      <Txt x={895} y={462} size={20}>0.2 mV</Txt>
      <Txt x={860} y={490} size={20}>5 ms</Txt>
      <Frame r={[645, 480, 972, 581]}>
        {timeAxis([-2, 92.1], [0, 20, 40, 60, 80])}
        {valAxis([0, 200], [0, 100, 200], 7, neg)}
        <ReferenceLine segment={[{ x: 0, y: 135 }, { x: 92.1, y: 135 }]} {...base} />
        <Scatter data={seq(koHetPre, 0, 0.5)} dataKey="v" shape={blob} isAnimationActive={false} />
        <Scatter data={seq(koHetPost, 36, 0.5)} dataKey="v" shape={blob} isAnimationActive={false} />
      </Frame>
      <Txt x={705} y={493} size={23}>1</Txt>
      <Txt x={943} y={579} size={23}>2</Txt>
      <VTxt x={554} y={530}>EPSP (μV/ms)</VTxt>
      <Txt x={808} y={653} size={31} center>Time (min)</Txt>

      {/* averages homosyn */}
      <Txt x={250} y={727} size={24}>LFS</Txt>
      <LegDot x={410} y={708} fill={INK} />
      <Txt x={446} y={716} size={21}>KO</Txt>
      <LegDot x={410} y={732} fill="#fff" />
      <Txt x={446} y={740} size={21}>WT</Txt>
      <Frame r={[171, 721, 500, 847]}>
        {timeAxis([-38, 62.75], [-20, 0, 20, 40, 60])}
        {valAxis([50, 130], [60, 80, 100, 120], 0)}
        <ReferenceLine segment={[{ x: -14, y: 100 }, { x: 62.75, y: 100 }]} {...hundred} />
        <Scatter data={seqE(avgHomoKoPre, avgHomoKoPreErr, -36, 2)} dataKey="v" shape={avgFull} isAnimationActive={false}>{errBar}</Scatter>
        <Scatter data={seqE(avgHomoWtPre, avgHomoWtPreErr, -36, 2)} dataKey="v" shape={avgOpen} isAnimationActive={false}>{errBar}</Scatter>
        <Scatter data={avgHomoWtTest} dataKey="v" shape={avgOpen} isAnimationActive={false}>{errBar}</Scatter>
        <Scatter data={seqE(avgHomoKoPost, avgHomoKoPostErr, -12.5, 2)} dataKey="v" shape={avgFull} isAnimationActive={false}>{errBar}</Scatter>
        <Scatter data={seqE(avgHomoWtPost, avgHomoWtPostErr, -12.5, 2)} dataKey="v" shape={avgOpen} isAnimationActive={false}>{errBar}</Scatter>
        <ReferenceLine segment={[{ x: -15, y: 121.5 }, { x: 0, y: 121.5 }]} {...lfs} />
      </Frame>
      <VTxt x={92} y={786} size={31}>EPSP (%)</VTxt>
      <Txt x={335} y={918} size={31} center>Time (min)</Txt>

      {/* averages heterosyn */}
      <LegDot x={880} y={705} fill={INK} />
      <Txt x={917} y={713} size={21}>KO</Txt>
      <LegDot x={880} y={728} fill="#fff" />
      <Txt x={917} y={737} size={21}>WT</Txt>
      <Frame r={[646, 720, 972, 844]}>
        {timeAxis([-37.65, 62.1], [-20, 0, 20, 40, 60])}
        {valAxis([50, 130], [60, 80, 100, 120], 3)}
        <ReferenceLine segment={[{ x: -15.5, y: 100 }, { x: 62.1, y: 100 }]} {...hundred} />
        <Scatter data={seqE(avgHetKoPre, avgHetKoPreErr, -35.5, 2)} dataKey="v" shape={avgFull} isAnimationActive={false}>{errBar}</Scatter>
        <Scatter data={seqE(avgHetWtPre, avgHetWtPreErr, -35.5, 2)} dataKey="v" shape={avgOpen} isAnimationActive={false}>{errBar}</Scatter>
        <Scatter data={seqE(avgHetKoPost, avgHetKoPostErr, 1.5, 2)} dataKey="v" shape={avgFull} isAnimationActive={false}>{errBar}</Scatter>
        <Scatter data={seqE(avgHetWtPost, avgHetWtPostErr, 1.5, 2)} dataKey="v" shape={avgOpen} isAnimationActive={false}>{errBar}</Scatter>
      </Frame>
      <VTxt x={565} y={782} size={31}>EPSP (%)</VTxt>
      <Txt x={809} y={916} size={31} center>Time (min)</Txt>

      {/* ---------------- b ---------------- */}
      <Txt x={10} y={971} size={36} bold>b</Txt>
      <Txt x={45} y={971} size={38}>KO</Txt>

      <Txt x={245} y={1033} size={24}>LFS</Txt>
      <LegDot x={343} y={980} fill={C_CYCLO} stroke="#2a2a2a" />
      <Txt x={380} y={987} size={21} color="#7a4cc4">cyclo</Txt>
      <LegDot x={343} y={1003} fill={C_R5} stroke="#2a2a2a" />
      <Txt x={380} y={1010} size={21} color="#2e8c7c">mGluR5 ant</Txt>
      <LegDot x={343} y={1027} fill={C_R1} stroke="#2a2a2a" />
      <Txt x={380} y={1034} size={21} color="#d4572c">mGluR1 ant</Txt>
      <LegDot x={343} y={1050} fill="#fff" />
      <Txt x={380} y={1057} size={21}>no drug</Txt>
      <Frame r={[166, 1044, 497, 1170]}>
        {timeAxis([-39.7, 66.3], [-20, 0, 20, 40, 60])}
        {valAxis([40, 120], [40, 60, 80, 100, 120], 5)}
        <ReferenceLine segment={[{ x: -13.5, y: 100 }, { x: 66.3, y: 100 }]} {...hundred} />
        <Scatter data={seqE(bHomoNone, bHomoNoneErr, -36, 2)} dataKey="v" shape={avgOpen} isAnimationActive={false}>{errBar}</Scatter>
        <Scatter data={seqE(bHomoR1, bHomoR1Err, -36, 2)} dataKey="v" shape={colDot(C_R1)} isAnimationActive={false}>{errBar}</Scatter>
        <Scatter data={seqE(bHomoCyclo, bHomoCycloErr, -36, 2)} dataKey="v" shape={colDot(C_CYCLO)} isAnimationActive={false}>{errBar}</Scatter>
        <Scatter data={seqE(bHomoR5, bHomoR5Err, -36, 2)} dataKey="v" shape={colDot(C_R5)} isAnimationActive={false}>{errBar}</Scatter>
        <ReferenceLine segment={[{ x: -15, y: 122 }, { x: 0, y: 122 }]} {...lfs} />
      </Frame>
      <VTxt x={92} y={1108} size={31}>EPSP (%)</VTxt>
      <Txt x={333} y={1243} size={31} center>Time (min)</Txt>

      <LegDot x={814} y={978} fill={C_CYCLO} stroke="#2a2a2a" />
      <Txt x={852} y={985} size={21} color="#7a4cc4">cyclo</Txt>
      <LegDot x={814} y={1003} fill={C_R5} stroke="#2a2a2a" />
      <Txt x={852} y={1010} size={21} color="#2e8c7c">mGluR5 ant.</Txt>
      <LegDot x={814} y={1028} fill={C_R1} stroke="#2a2a2a" />
      <Txt x={852} y={1034} size={21} color="#d4572c">mGluR1 ant.</Txt>
      <LegDot x={814} y={1051} fill="#fff" />
      <Txt x={852} y={1057} size={21}>no drug</Txt>
      <Frame r={[646, 1046, 973, 1170]}>
        {timeAxis([-38.7, 65.9], [-20, 0, 20, 40, 60])}
        {valAxis([60, 124.7], [60, 80, 100, 120], 0)}
        <ReferenceLine segment={[{ x: -15.5, y: 100 }, { x: 65.9, y: 100 }]} {...hundred} />
        <Scatter data={seqE(bHetNonePre, bHetPreErr, -36, 2)} dataKey="v" shape={avgOpen} isAnimationActive={false}>{errBar}</Scatter>
        <Scatter data={seqE(bHetR1Pre, bHetPreErr, -36, 2)} dataKey="v" shape={colDot(C_R1)} isAnimationActive={false}>{errBar}</Scatter>
        <Scatter data={seqE(bHetCycloPre, bHetPreErr, -36, 2)} dataKey="v" shape={colDot(C_CYCLO)} isAnimationActive={false}>{errBar}</Scatter>
        <Scatter data={seqE(bHetR5Pre, bHetPreErr, -36, 2)} dataKey="v" shape={colDot(C_R5)} isAnimationActive={false}>{errBar}</Scatter>
        <Scatter data={seqE(bHetNonePost, bHetNoneErr, 1.3, 2)} dataKey="v" shape={avgOpen} isAnimationActive={false}>{errBar}</Scatter>
        <Scatter data={seqE(bHetR1Post, bHetR1Err, 1.3, 2)} dataKey="v" shape={colDot(C_R1)} isAnimationActive={false}>{errBar}</Scatter>
        <Scatter data={seqE(bHetCycloPost, bHetCycloErr, 1.3, 2)} dataKey="v" shape={colDot(C_CYCLO)} isAnimationActive={false}>{errBar}</Scatter>
        <Scatter data={seqE(bHetR5Post, bHetR5Err, 1.3, 2)} dataKey="v" shape={colDot(C_R5)} isAnimationActive={false}>{errBar}</Scatter>
      </Frame>
      <VTxt x={566} y={1108} size={31}>EPSP (%)</VTxt>
      <Txt x={810} y={1242} size={31} center>Time (min)</Txt>

      {/* ---------------- c ---------------- */}
      <Txt x={12} y={1297} size={36} bold>c</Txt>
      <Txt x={48} y={1297} size={31}>homosyn. path</Txt>
      <Txt x={523} y={1297} size={31}>heterosyn. path</Txt>
      <BarPanel r={[170, 1346, 497, 1547]} means={homoMeans} sems={homoSems} points={homoPoints} brackets={homoBrackets} koX={6.6} koY={129} tag="ho" />
      <BarPanel r={[647, 1346, 973, 1547]} means={hetMeans} sems={hetSems} points={hetPoints} brackets={hetBrackets} koX={6.73} koY={132.9} tag="he" />
      <VTxt x={92} y={1447} size={31}>EPSP (%)</VTxt>
      <VTxt x={567} y={1447} size={31}>EPSP (%)</VTxt>
    </div>
  );
}
